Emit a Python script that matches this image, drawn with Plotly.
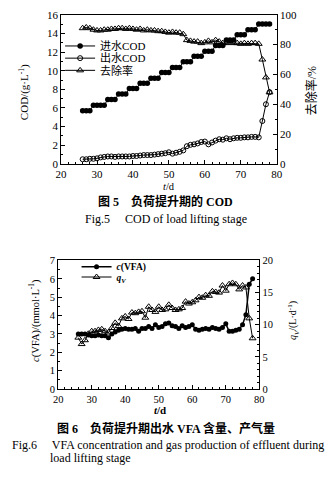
import plotly.graph_objects as go

# ---------------- Fig.5 data ----------------
days5 = list(range(26, 79))
influent_cod = ([5.7] * 3 + [6.3] * 4 + [6.9] * 3 + [7.5] * 3 + [8.1] * 3 + [8.65] * 3 +
                [9.2] * 3 + [9.8] * 3 + [10.35] * 3 + [10.95] * 3 + [11.55] * 3 + [12.1] * 3 +
                [12.7] * 3 + [13.3] * 3 + [13.85] * 3 + [14.4] * 3 + [15.0] * 4)
effluent_cod = [0.5, 0.5, 0.55, 0.55, 0.6,
                0.7, 0.75, 0.8, 0.8, 0.75, 0.8, 0.8, 0.8, 0.8, 0.85,
                0.85, 0.9, 0.95, 0.95, 0.95, 1.0, 1.05, 1.1, 1.15, 1.25,
                1.1, 1.2, 1.3, 1.45, 1.9, 2.05, 2.1, 2.2, 2.35, 2.4,
                2.1, 2.3, 2.5, 2.65, 2.6, 2.75, 2.65, 2.75, 2.8, 2.8,
                2.85, 2.85, 2.9, 2.9, 2.85,
                4.6, 6.4, 7.7]
removal = [91, 91.5, 91, 90, 89.5, 89.5, 90, 90, 90.5, 90.5,
           91, 91, 90.5, 91, 90.5, 90, 90.5, 89.5, 90, 89.5,
           89.5, 89, 89, 88.5, 88, 88.5, 88, 88, 87, 83,
           82.5, 82, 82, 81, 81.5, 82.5, 81.5, 83, 82, 81,
           81, 81.5, 81, 81, 80.5, 81, 80.5, 81, 81, 80.5,
           70, 58, 48]

# ---------------- Fig.6 data ----------------
days6 = list(range(26, 79))
vfa = [3.0, 3.0, 3.0, 2.95, 2.9, 2.9, 2.95, 2.9, 2.9, 2.8,
       3.0, 3.1, 3.2, 3.25, 3.3, 3.25, 3.25, 3.3, 3.15, 3.3,
       3.3, 3.4, 3.3, 3.5, 3.35, 3.4, 3.55, 3.6, 3.45, 3.4,
       3.3, 3.45, 3.35, 3.4, 3.5, 3.25, 3.2, 3.25, 3.3, 3.25,
       3.35, 3.3, 3.25, 3.35, 3.55, 3.15, 3.15, 3.2, 3.25, 3.5,
       4.05, 5.7, 6.0]
qv = [8.0, 7.0, 7.6, 8.6, 9.0, 9.0, 9.2, 9.3, 9.0, 8.8,
      9.5, 10.3, 9.8, 11.0, 11.3, 10.9, 11.9, 11.8, 12.0, 12.1,
      11.1, 12.8, 12.3, 12.0, 12.8, 12.3, 12.4, 13.1, 12.6, 12.3,
      12.4, 12.6, 13.6, 13.3, 13.5, 13.8, 14.3, 14.2, 14.6, 14.5,
      15.2, 15.1, 15.0, 16.1, 15.3, 16.3, 16.5, 16.3, 15.5, 16.1,
      15.8, 11.0, 7.9]

W, H = 333, 477
SERIF = "Liberation Serif, Times New Roman, Noto Sans CJK SC, serif"
CJK = "Liberation Serif, Noto Sans CJK SC, serif"


def px(x):
    return x / W


def py(y):
    return 1 - y / H


fig = go.Figure()
ln = dict(color="black", width=1)

fig.add_trace(go.Scatter(x=days5, y=influent_cod, name="进水COD", mode="lines+markers",
                         line=ln, marker=dict(symbol="circle", size=5.5, color="black"),
                         xaxis="x", yaxis="y", legend="legend"))
fig.add_trace(go.Scatter(x=days5, y=effluent_cod, name="出水COD", mode="lines+markers",
                         line=ln, marker=dict(symbol="circle-open", size=5, color="black",
                                              line=dict(width=1)),
                         xaxis="x", yaxis="y", legend="legend3"))
fig.add_trace(go.Scatter(x=days5, y=removal, name="去除率", mode="lines+markers",
                         line=ln, marker=dict(symbol="triangle-up-open", size=6, color="black",
                                              line=dict(width=1)),
                         xaxis="x", yaxis="y2", legend="legend4"))

fig.add_trace(go.Scatter(x=days6, y=vfa, name="<b><i>c</i>(VFA)</b>", mode="lines+markers",
                         line=dict(color="black", width=1.5),
                         marker=dict(symbol="circle", size=5, color="black"),
                         xaxis="x2", yaxis="y3", legend="legend2"))
fig.add_trace(go.Scatter(x=days6, y=qv, name="<b><i>q</i><sub><i>V</i></sub></b>", mode="lines+markers",
                         line=ln, marker=dict(symbol="triangle-up-open", size=6, color="black",
                                              line=dict(width=1)),
                         xaxis="x2", yaxis="y4", legend="legend5"))

axis_common = dict(showline=True, linecolor="black", linewidth=1, ticks="inside",
                   ticklen=4, tickcolor="black", showgrid=False, zeroline=False,
                   tickfont=dict(family=SERIF, size=11, color="black"))
small_tf = dict(family=SERIF, size=10.5, color="black")


def leg(x, y, size, family):
    return dict(x=px(x), y=py(y), xanchor="left", yanchor="middle",
                bgcolor="rgba(0,0,0,0)", font=dict(family=family, size=size, color="black"),
                tracegroupgap=0, itemwidth=30, borderwidth=0)


fig.update_layout(
    width=W, height=H, margin=dict(l=0, r=0, t=0, b=0),
    paper_bgcolor="white", plot_bgcolor="white",
    xaxis=dict(domain=[px(58), px(281)], anchor="y", range=[20, 80], dtick=10,
               mirror=True, minor=dict(dtick=2, ticks="inside", ticklen=2, tickcolor="black"),
               **axis_common),
    yaxis=dict(domain=[py(162), py(9)], anchor="x", range=[0, 16], dtick=2,
               minor=dict(dtick=1, ticks="inside", ticklen=2, tickcolor="black"),
               **axis_common),
    yaxis2=dict(overlaying="y", side="right", anchor="x", range=[0, 100], dtick=20,
                minor=dict(dtick=10, ticks="inside", ticklen=2, tickcolor="black"),
                **axis_common),
    xaxis2=dict(domain=[px(55), px(263)], anchor="y3", range=[20, 80], dtick=10,
                mirror=True, minor=dict(dtick=2, ticks="inside", ticklen=2, tickcolor="black"),
                **{**axis_common, "tickfont": small_tf}),
    yaxis3=dict(domain=[py(393), py(261)], anchor="x2", range=[0, 7], dtick=1,
                minor=dict(dtick=0.5, ticks="inside", ticklen=2, tickcolor="black"),
                **{**axis_common, "tickfont": small_tf}),
    yaxis4=dict(overlaying="y3", side="right", anchor="x2", range=[0, 20], dtick=5,
                minor=dict(dtick=1, ticks="inside", ticklen=2, tickcolor="black"),
                **{**axis_common, "tickfont": small_tf}),
    legend=leg(57, 41, 11, CJK),
    legend3=leg(57, 53.5, 11, CJK),
    legend4=leg(57, 66, 11, CJK),
    legend2=leg(74, 267.5, 9.5, SERIF),
    legend5=leg(74, 278, 9.5, SERIF),
    showlegend=True,
)

ann = []


def text(x, y, s, size=11, angle=0, family=SERIF, xanchor="center"):
    ann.append(dict(x=px(x), y=py(y), xref="paper", yref="paper", text=s, showarrow=False,
                    textangle=angle, xanchor=xanchor, yanchor="middle",
                    font=dict(family=family, size=size, color="black")))


text(20, 88, "COD/(g·L<sup>-1</sup>)", size=11, angle=-90)
text(317, 87, "去除率/%", size=12, angle=-90, family=CJK)
text(170, 185, "<i>t</i>/d", size=10.5)
text(166, 201, "<b>图 5　负荷提升期的 COD</b>", size=12, family=CJK)
text(166, 218, "Fig.5　 COD of load lifting stage", size=12)

text(30, 323, "<i>c</i>(VFA)/(mmol·L<sup>-1</sup>)", size=10.5, angle=-90)
text(298, 323, "<i>q</i><sub><i>V</i></sub>/(L·d<sup>-1</sup>)", size=10, angle=-90)
text(160, 414, "<b><i>t</i>/d</b>", size=11)
text(166, 433, "<b>图 6　负荷提升期出水 VFA 含量、产气量</b>", size=12, family=CJK)
text(5, 450, "Fig.6　 VFA concentration and gas production of effluent during", size=12,
     xanchor="left")
text(44, 464, "load lifting stage", size=12, xanchor="left")

fig.update_layout(annotations=ann)
fig.write_html("out.html")
